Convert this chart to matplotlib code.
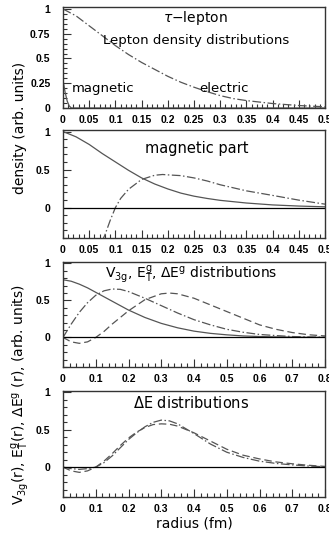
import numpy as np
import matplotlib
matplotlib.use("Agg")
import matplotlib.pyplot as plt
from matplotlib.ticker import MultipleLocator

plt.rcParams['font.family'] = ['DejaVu Sans']

# ---- panel 1: tau-lepton density distributions
r_el = [0.0, 0.025, 0.05, 0.075, 0.1, 0.125, 0.15, 0.175, 0.2, 0.225, 0.25,
        0.275, 0.3, 0.325, 0.35, 0.4, 0.45, 0.5]
rho_el = [1.0, 0.93, 0.83, 0.73, 0.63, 0.54, 0.46, 0.39, 0.32, 0.26, 0.21,
          0.165, 0.125, 0.095, 0.075, 0.045, 0.025, 0.012]
r_mag = [0.0, 0.004, 0.008, 0.012, 0.016, 0.5]
rho_mag = [0.28, 0.16, 0.07, 0.02, 0.0, 0.0]

# ---- panel 2: magnetic part
r_mp = [0.0, 0.025, 0.05, 0.075, 0.1, 0.125, 0.15, 0.175, 0.2, 0.225, 0.25,
        0.275, 0.3, 0.35, 0.4, 0.45, 0.5]
mp_solid = [1.0, 0.93, 0.83, 0.71, 0.60, 0.49, 0.39, 0.31, 0.245, 0.19, 0.15,
            0.12, 0.095, 0.06, 0.035, 0.02, 0.01]
r_mp2 = [0.074, 0.08, 0.09, 0.1, 0.11, 0.125, 0.15, 0.175, 0.19, 0.2, 0.225,
         0.25, 0.275, 0.3, 0.325, 0.35, 0.375, 0.4, 0.45, 0.5]
mp_dd = [-0.45, -0.36, -0.17, 0.0, 0.12, 0.24, 0.37, 0.425, 0.435, 0.43, 0.42,
         0.39, 0.35, 0.30, 0.26, 0.22, 0.19, 0.16, 0.098, 0.045]

# ---- panel 3: V3g, E^g_T, dE^g
r3 = [0.0, 0.025, 0.05, 0.075, 0.1, 0.125, 0.15, 0.175, 0.2, 0.25, 0.3, 0.325,
      0.35, 0.4, 0.45, 0.5, 0.55, 0.6, 0.65, 0.7, 0.75, 0.8]
v3g = [0.78, 0.76, 0.72, 0.67, 0.61, 0.55, 0.49, 0.43, 0.37, 0.27, 0.19, 0.16,
       0.13, 0.085, 0.055, 0.035, 0.02, 0.012, 0.007, 0.004, 0.002, 0.001]
et = [0.0, 0.18, 0.34, 0.47, 0.57, 0.63, 0.655, 0.65, 0.62, 0.53, 0.43, 0.38,
      0.33, 0.24, 0.17, 0.11, 0.07, 0.04, 0.025, 0.012, 0.006, 0.003]
de = [0.0, -0.06, -0.08, -0.06, 0.0, 0.08, 0.18, 0.27, 0.36, 0.51, 0.59, 0.60,
      0.59, 0.53, 0.44, 0.35, 0.26, 0.17, 0.11, 0.066, 0.036, 0.02]

# ---- panel 4: dE distributions
r4 = [0.0, 0.025, 0.05, 0.075, 0.1, 0.125, 0.15, 0.175, 0.2, 0.225, 0.25, 0.275,
      0.3, 0.325, 0.35, 0.4, 0.45, 0.5, 0.55, 0.6, 0.65, 0.7, 0.75, 0.8]
de_dd = [0.0, -0.02, -0.03, -0.02, 0.0, 0.06, 0.15, 0.26, 0.37, 0.46, 0.54, 0.60,
         0.63, 0.62, 0.58, 0.45, 0.31, 0.20, 0.13, 0.08, 0.05, 0.03, 0.015, 0.005]
de_da = [0.0, -0.05, -0.07, -0.05, 0.0, 0.08, 0.18, 0.29, 0.39, 0.47, 0.53, 0.57,
         0.58, 0.575, 0.55, 0.46, 0.35, 0.24, 0.16, 0.11, 0.07, 0.045, 0.025, 0.01]

x_lab_05 = ['0', '0.05', '0.1', '0.15', '0.2', '0.25', '0.3', '0.35',
            '0.4', '0.45', '0.5']
x_lab_08 = ['0', '0.1', '0.2', '0.3', '0.4', '0.5', '0.6', '0.7', '0.8']

GRAY = '#555555'
DD = (0, (7, 2, 1.2, 2))
DA = (0, (6, 3))
W, H = 329, 536


def make_axes(fig, top, bottom):
    ax = fig.add_axes([63 / W, 1 - bottom / H, 262 / W, (bottom - top) / H])
    for s in ax.spines.values():
        s.set_linewidth(1.0)
        s.set_color('#333333')
    ax.tick_params(which='both', direction='in', top=False, right=False,
                   labelsize=7.5, color='#333333')
    ax.tick_params(axis='x', pad=5)
    ax.tick_params(axis='y', pad=9)
    ax.tick_params(which='major', length=6, width=0.8)
    ax.tick_params(which='minor', length=3, width=0.8)
    return ax


def fmt(ax):
    for lab in ax.get_xticklabels() + ax.get_yticklabels():
        lab.set_fontweight('bold')
        lab.set_family('Liberation Sans')


fig = plt.figure(figsize=(W / 100, H / 100), dpi=100)

# panel 1
ax1 = make_axes(fig, 7, 108)
ax1.plot(r_el, rho_el, color=GRAY, lw=0.9, linestyle=DD)
ax1.plot(r_mag, rho_mag, color=GRAY, lw=0.9)
ax1.set_xlim(0, 0.5)
ax1.set_ylim(0, 1.02)
ax1.set_xticks(np.arange(0, 0.51, 0.05))
ax1.set_xticklabels(x_lab_05)
ax1.xaxis.set_minor_locator(MultipleLocator(0.01))
ax1.set_yticks([0, 0.25, 0.5, 0.75, 1])
ax1.set_yticklabels(['0', '0.25', '0.5', '0.75', '1'])
ax1.yaxis.set_minor_locator(MultipleLocator(0.05))
ax1.text(0.505, 0.89, r'$\tau$$-$lepton', transform=ax1.transAxes,
         ha='center', va='center', fontsize=10)
ax1.text(0.51, 0.67, 'Lepton density distributions', transform=ax1.transAxes,
         ha='center', va='center', fontsize=9.5)
ax1.text(0.034, 0.19, 'magnetic', transform=ax1.transAxes,
         ha='left', va='center', fontsize=9.5)
ax1.text(0.52, 0.19, 'electric', transform=ax1.transAxes,
         ha='left', va='center', fontsize=9.5)
fmt(ax1)

# panel 2
ax2 = make_axes(fig, 130, 238)
ax2.plot(r_mp, mp_solid, color=GRAY, lw=0.9)
ax2.plot(r_mp2, mp_dd, color=GRAY, lw=0.9, linestyle=DD)
ax2.axhline(0, color='black', lw=0.9)
ax2.set_xlim(0, 0.5)
ax2.set_ylim(-0.4, 1.02)
ax2.set_xticks(np.arange(0, 0.51, 0.05))
ax2.set_xticklabels(x_lab_05)
ax2.xaxis.set_minor_locator(MultipleLocator(0.01))
ax2.set_yticks([0, 0.5, 1])
ax2.set_yticklabels(['0', '0.5', '1'])
ax2.yaxis.set_minor_locator(MultipleLocator(0.1))
ax2.text(0.51, 0.83, 'magnetic part', transform=ax2.transAxes,
         ha='center', va='center', fontsize=10.5)
fmt(ax2)

# panel 3
ax3 = make_axes(fig, 262, 367)
ax3.plot(r3, v3g, color=GRAY, lw=0.9)
ax3.plot(r3, et, color=GRAY, lw=0.9, linestyle=DD)
ax3.plot(r3, de, color=GRAY, lw=0.9, linestyle=DA)
ax3.axhline(0, color='black', lw=0.9)
ax3.set_xlim(0, 0.8)
ax3.set_ylim(-0.4, 1.02)
ax3.set_xticks(np.arange(0, 0.81, 0.1))
ax3.set_xticklabels(x_lab_08)
ax3.xaxis.set_minor_locator(MultipleLocator(0.02))
ax3.set_yticks([0, 0.5, 1])
ax3.set_yticklabels(['0', '0.5', '1'])
ax3.yaxis.set_minor_locator(MultipleLocator(0.1))
ax3.text(0.49, 0.885,
         r'V$_{\mathregular{3g}}$, E$^{\mathregular{g}}_{\mathregular{T}}$, '
         r'$\Delta$E$^{\mathregular{g}}$ distributions',
         transform=ax3.transAxes, ha='center', va='center', fontsize=10)
fmt(ax3)

# panel 4
ax4 = make_axes(fig, 391, 497)
ax4.plot(r4, de_dd, color=GRAY, lw=0.9, linestyle=DD)
ax4.plot(r4, de_da, color=GRAY, lw=0.9, linestyle=DA)
ax4.axhline(0, color='black', lw=0.9)
ax4.set_xlim(0, 0.8)
ax4.set_ylim(-0.4, 1.02)
ax4.set_xticks(np.arange(0, 0.81, 0.1))
ax4.set_xticklabels(x_lab_08)
ax4.xaxis.set_minor_locator(MultipleLocator(0.02))
ax4.set_yticks([0, 0.5, 1])
ax4.set_yticklabels(['0', '0.5', '1'])
ax4.yaxis.set_minor_locator(MultipleLocator(0.1))
ax4.text(0.49, 0.885, r'$\Delta$E distributions', transform=ax4.transAxes,
         ha='center', va='center', fontsize=10.5)
ax4.set_xlabel('radius (fm)', fontsize=10, labelpad=2)
fmt(ax4)

fig.text(20 / W, 1 - 128 / H, 'density (arb. units)', rotation=90,
         ha='center', va='center', fontsize=10)
fig.text(20 / W, 1 - 395 / H,
         r'V$_{\mathregular{3g}}$(r), E$^{\mathregular{g}}_{\mathregular{T}}$(r), '
         r'$\Delta$E$^{\mathregular{g}}$ (r), (arb. units)',
         rotation=90, ha='center', va='center', fontsize=10)

fig.savefig('out.png', dpi=100)
